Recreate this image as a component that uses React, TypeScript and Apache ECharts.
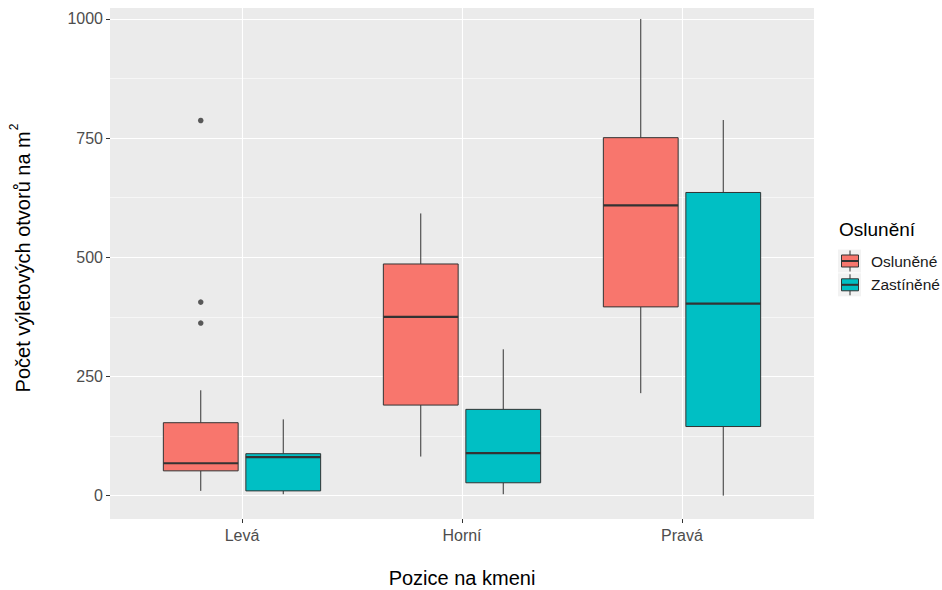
import React, { useEffect, useRef } from 'react';
import * as echarts from 'echarts';

const categories = ['Levá', 'Horní', 'Pravá'];
const groups = ['Osluněné', 'Zastíněné'];
const groupColors = ['#F8766D', '#00BFC4'];
// [min, Q1, median, Q3, max] per category
const osluneneStats = [
  [10, 52, 68, 153, 221],
  [82, 190, 375, 486, 592],
  [215, 396, 609, 751, 1000],
];
const zastineneStats = [
  [3, 10, 81, 88, 160],
  [3, 27, 89, 181, 307],
  [0, 145, 403, 636, 788],
];
// [category index, value]
const osluneneOutliers = [
  [0, 787],
  [0, 406],
  [0, 362],
];
const zastineneOutliers: number[][] = [];
const yTicks = [0, 250, 500, 750, 1000];
const yMinorTicks = [125, 375, 625, 875];
const xTitle = 'Pozice na kmeni';
const yTitle = 'Počet výletových otvorů na m';
const legendTitle = 'Oslunění';

const FONT = '"Liberation Sans", Arial, Helvetica, sans-serif';
const Y_MIN = -49;
const Y_MAX = 1023;
const DODGE = 0.1875;
const BOX_W = 0.34;
const LINE = '#333333';

export default function App() {
  const ref = useRef<HTMLDivElement>(null);
  useEffect(() => {
    document.body.style.margin = '0';
    if (!ref.current) return;
    const chart = echarts.init(ref.current, undefined, { renderer: 'svg' });

    const statsList = [osluneneStats, zastineneStats];
    const outlierList = [osluneneOutliers, zastineneOutliers];

    const boxSeries = groups.map((g, gi) => ({
      type: 'custom',
      name: g,
      xAxisIndex: 0,
      yAxisIndex: 0,
      encode: { x: 0, y: [1, 2, 3, 4, 5] },
      data: statsList[gi].map((s, ci) => [ci + 1 + (gi === 0 ? -DODGE : DODGE), ...s]),
      renderItem: (params: any, api: any) => {
        const x = api.value(0);
        const lo = api.coord([x, api.value(1)]);
        const q1 = api.coord([x, api.value(2)]);
        const med = api.coord([x, api.value(3)]);
        const q3 = api.coord([x, api.value(4)]);
        const hi = api.coord([x, api.value(5)]);
        const w = api.size([BOX_W, 0])[0];
        const cx = lo[0];
        return {
          type: 'group',
          children: [
            {
              type: 'line',
              shape: { x1: cx, y1: hi[1], x2: cx, y2: q3[1] },
              style: { stroke: LINE, lineWidth: 1 },
            },
            {
              type: 'line',
              shape: { x1: cx, y1: q1[1], x2: cx, y2: lo[1] },
              style: { stroke: LINE, lineWidth: 1 },
            },
            {
              type: 'rect',
              shape: { x: cx - w / 2, y: q3[1], width: w, height: q1[1] - q3[1] },
              style: { fill: groupColors[gi], stroke: LINE, lineWidth: 1 },
            },
            {
              type: 'line',
              shape: { x1: cx - w / 2, y1: med[1], x2: cx + w / 2, y2: med[1] },
              style: { stroke: LINE, lineWidth: 2.2 },
            },
          ],
        };
      },
      z: 2,
    }));

    const outlierSeries = groups.map((g, gi) => ({
      type: 'scatter',
      name: g + ' outliers',
      symbol: 'circle',
      symbolSize: 5.5,
      itemStyle: { color: LINE },
      data: outlierList[gi].map((o) => [o[0] + 1 + (gi === 0 ? -DODGE : DODGE), o[1]]),
      z: 3,
    }));

    const legendGraphics: any[] = [
      {
        type: 'text',
        left: 839,
        top: 220,
        style: { text: legendTitle, font: `19px ${FONT}`, fill: '#000' },
      },
    ];
    groups.forEach((g, gi) => {
      const cy = 261 + gi * 23.8;
      legendGraphics.push(
        { type: 'rect', shape: { x: 838, y: cy - 11.5, width: 23, height: 23 }, style: { fill: '#F2F2F2' } },
        { type: 'line', shape: { x1: 850, y1: cy - 10.5, x2: 850, y2: cy + 10.5 }, style: { stroke: LINE, lineWidth: 1 } },
        { type: 'rect', shape: { x: 841.5, y: cy - 6, width: 17, height: 12 }, style: { fill: groupColors[gi], stroke: LINE, lineWidth: 1 } },
        { type: 'line', shape: { x1: 841.5, y1: cy, x2: 858.5, y2: cy }, style: { stroke: LINE, lineWidth: 2 } },
        {
          type: 'text',
          x: 871,
          y: cy,
          style: { text: g, font: `15.5px ${FONT}`, fill: '#1a1a1a', verticalAlign: 'middle', align: 'left' },
        }
      );
    });

    chart.setOption({
      animation: false,
      backgroundColor: '#ffffff',
      grid: {
        left: 110,
        top: 8,
        right: 128,
        bottom: 71,
        show: true,
        backgroundColor: '#EBEBEB',
        borderWidth: 0,
        containLabel: false,
        outerBoundsMode: 'none',
      },
      xAxis: {
        type: 'value',
        min: 0.4,
        max: 3.6,
        position: 'bottom',
        axisLine: { show: false, onZero: false },
        axisTick: { show: true, length: 4, lineStyle: { color: LINE, width: 1 }, customValues: [1, 2, 3] },
        axisLabel: {
          customValues: [1, 2, 3],
          formatter: (v: number) => categories[Math.round(v) - 1] ?? '',
          color: '#4D4D4D',
          fontSize: 16,
          fontFamily: FONT,
          margin: 8,
        },
        splitLine: { show: true, lineStyle: { color: '#ffffff', width: 1.1 } },
      },
      yAxis: [
        {
          type: 'value',
          min: Y_MIN,
          max: Y_MAX,
          axisLine: { show: false, onZero: false },
          axisTick: { show: true, length: 4, lineStyle: { color: LINE, width: 1 }, customValues: yTicks },
          axisLabel: {
            customValues: yTicks,
            formatter: (v: number) => String(Math.round(v)),
            color: '#4D4D4D',
            fontSize: 16,
            fontFamily: FONT,
            margin: 7,
          },
          splitLine: { show: true, lineStyle: { color: '#ffffff', width: 1.1 } },
        },
        {
          type: 'value',
          min: Y_MIN,
          max: Y_MAX,
          position: 'left',
          axisLine: { show: false, onZero: false },
          axisTick: { show: false, customValues: yMinorTicks },
          axisLabel: { show: false, customValues: yMinorTicks },
          splitLine: { show: true, lineStyle: { color: '#ffffff', width: 0.55 } },
        },
      ],
      graphic: [
        {
          type: 'text',
          x: 462,
          y: 578,
          style: { text: xTitle, font: `20px ${FONT}`, fill: '#000', align: 'center', verticalAlign: 'middle' },
        },
        {
          type: 'text',
          x: 20,
          y: 258,
          rotation: Math.PI / 2,
          style: {
            text: '{main|' + yTitle + '}{sup|2}',
            fill: '#000',
            align: 'center',
            verticalAlign: 'middle',
            rich: {
              main: { fontSize: 20, fontFamily: FONT, fill: '#000', lineHeight: 25, verticalAlign: 'bottom' },
              sup: { fontSize: 12, fontFamily: FONT, fill: '#000', lineHeight: 12, verticalAlign: 'top', padding: [0, 0, 0, 1] },
            },
          },
        },
        ...legendGraphics,
      ],
      series: [...boxSeries, ...outlierSeries],
    } as any);
    return () => chart.dispose();
  }, []);
  return <div ref={ref} style={{ width: 942, height: 590 }} />;
}
